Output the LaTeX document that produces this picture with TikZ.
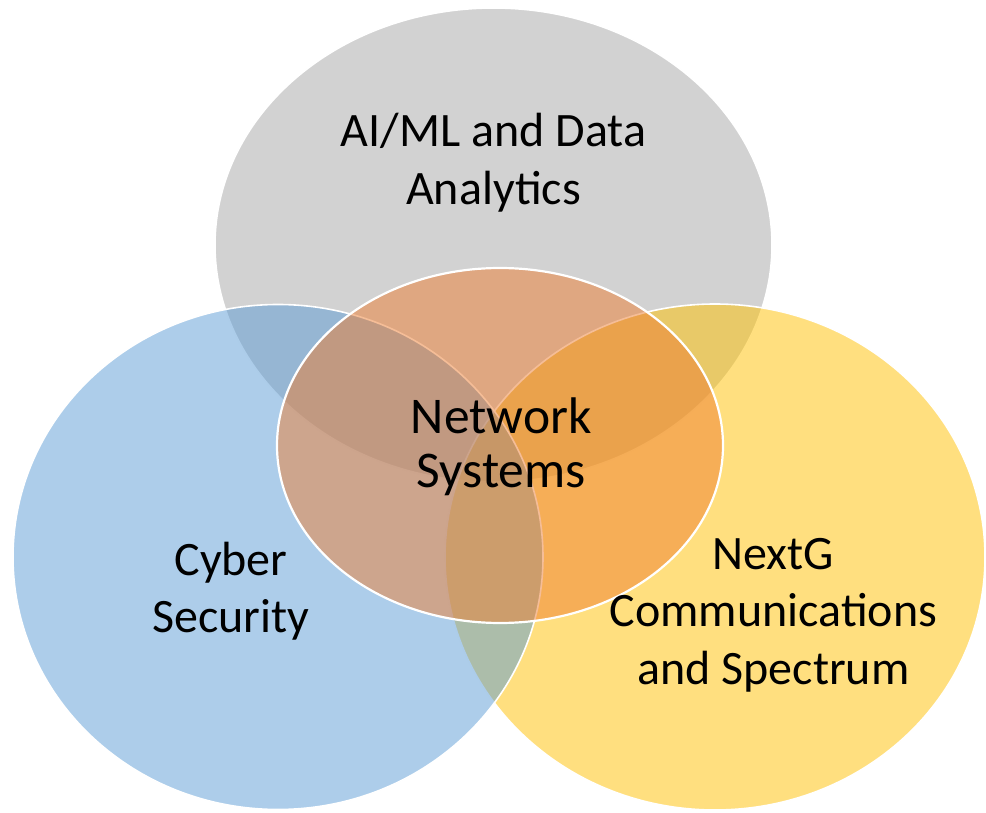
\documentclass[tikz,border=0pt]{standalone}
\usepackage{fontspec}
\setmainfont{Carlito}
\usetikzlibrary{shapes.geometric}
\definecolor{cgray}{HTML}{A5A5A5}
\definecolor{cyellow}{HTML}{FFC000}
\definecolor{cblue}{HTML}{5B9BD5}
\definecolor{corange}{HTML}{ED7D31}
\tikzset{
  venn/.style={ellipse, inner sep=0pt, fill opacity=0.5, draw opacity=1, draw=white, line width=1.6pt},
  label/.style={align=center, font=\fontsize{48}{57.6}\selectfont, text=black, anchor=base, inner sep=0pt}
}
\begin{document}
\begin{tikzpicture}[x=1pt,y=-1pt]
\useasboundingbox (0,0) rectangle (986,813);
\node[venn, fill=cgray, minimum width=557pt, minimum height=474pt] (ai) at (493.5,245) {};
\node[venn, fill=cyellow, minimum width=540pt, minimum height=506pt] (nextg) at (715,557) {};
\node[venn, fill=cblue, minimum width=530pt, minimum height=505pt] (cyber) at (278,557) {};
\node[venn, fill=corange, line width=2.2pt, minimum width=446pt, minimum height=355pt] (net) at (500,445.5) {};
\node[label] (ailabel) at (493.5,204.6) {AI/ML and Data\\Analytics};
\node[label] (cyberlabel) at (231,632.6) {Cyber\\Security};
\node[label] (nextglabel) at (773.5,684.2) {NextG\\Communications\\and Spectrum};
\node[label, font=\fontsize{51.5}{54}\selectfont] (netlabel) at (501.2,487.3) {Network\\Systems};
\end{tikzpicture}
\end{document}
